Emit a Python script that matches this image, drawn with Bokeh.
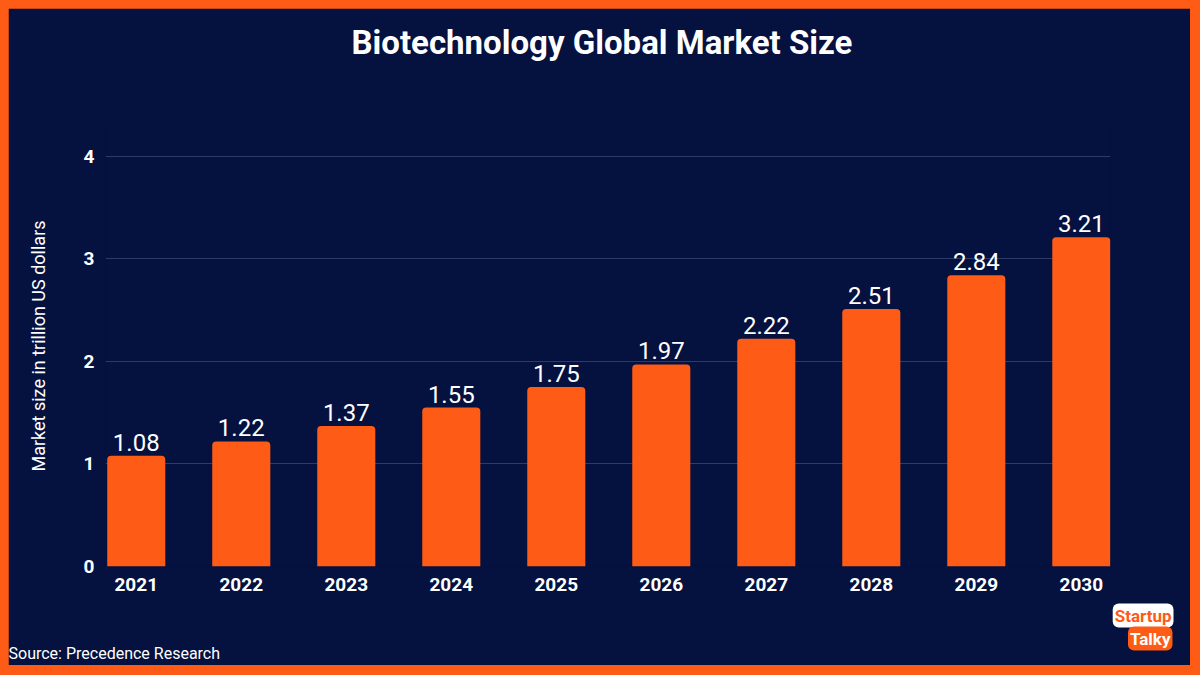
from bokeh.plotting import figure
from bokeh.models import (ColumnDataSource, Range1d, FixedTicker, Title,
                          GlobalInlineStyleSheet)
from bokeh.core.properties import value
from bokeh.embed import file_html
from bokeh.resources import INLINE

years = ["2021", "2022", "2023", "2024", "2025", "2026", "2027", "2028", "2029", "2030"]
market_size = [1.08, 1.22, 1.37, 1.55, 1.75, 1.97, 2.22, 2.51, 2.84, 3.21]
y_ticks = [0, 1, 2, 3, 4]

title_text = "Biotechnology Global Market Size"
y_label = "Market size in trillion US dollars"
source_text = "Source: Precedence Research"

NAVY = "#05113F"
ORANGE = "#FE5B16"
GRID = "#2F3A66"

idx = list(range(len(years)))
src = ColumnDataSource(dict(x=idx, top=market_size,
                            lbl=[f"{v:.2f}" for v in market_size]))

p = figure(width=1182, height=657, output_backend="svg", toolbar_location=None,
           x_range=Range1d(-0.293, 9.278), y_range=Range1d(0, 4.3),
           min_border_left=97, min_border_right=80,
           min_border_top=117, min_border_bottom=99, title=None)
p.stylesheets = [GlobalInlineStyleSheet(
    css="html, body { background-color: %s !important; } body { padding: 8px !important; }" % ORANGE)]

p.background_fill_color = NAVY
p.border_fill_color = NAVY
p.outline_line_color = NAVY
p.outline_line_width = 2

p.vbar(x="x", top="top", width=0.553, source=src, fill_color=ORANGE,
       line_color=None, border_radius=(4, 4, 0, 0))
p.text(x="x", y="top", text="lbl", source=src, text_align="center",
       text_baseline="bottom", y_offset=-5, text_color="white",
       text_font=value("Roboto"), text_font_size="24px")

# axes
p.xaxis.ticker = FixedTicker(ticks=idx)
p.xaxis.major_label_overrides = {i: y for i, y in enumerate(years)}
p.yaxis.ticker = FixedTicker(ticks=y_ticks)
for ax in (p.xaxis, p.yaxis):
    ax.axis_line_color = None
    ax.major_tick_line_color = None
    ax.minor_tick_line_color = None
    ax.major_tick_out = 0
    ax.major_tick_in = 0
    ax.major_label_text_color = "white"
    ax.major_label_text_font = "Roboto"
    ax.major_label_text_font_style = "bold"
    ax.major_label_text_font_size = "19px"
p.xaxis.major_label_standoff = 11
p.yaxis.major_label_standoff = 11
p.yaxis.axis_label = y_label
p.yaxis.axis_label_text_color = "white"
p.yaxis.axis_label_text_font = "Roboto"
p.yaxis.axis_label_text_font_style = "normal"
p.yaxis.axis_label_text_font_size = "18px"
p.yaxis.axis_label_standoff = 32

p.xgrid.grid_line_color = None
p.ygrid.grid_line_color = GRID
p.ygrid.grid_line_width = 1

# spacer between the frame and the title, then the title
p.add_layout(Title(text=" ", text_font_size="1px", standoff=51), "above")
p.add_layout(Title(text=title_text, align="left", offset=246, standoff=20,
                   text_color="white", text_font="Roboto",
                   text_font_style="bold", text_font_size="33px"), "above")
# logo + source (stacked below the x axis)
p.add_layout(Title(text="Startup", align="right", offset=-63,
                   text_color=ORANGE, text_font="Roboto", text_font_style="bold",
                   text_font_size="17px", background_fill_color="white",
                   padding=2, border_radius=6, standoff=16), "below")
p.add_layout(Title(text="Talky", align="right", offset=-62,
                   text_color="white", text_font="Roboto", text_font_style="bold",
                   text_font_size="17px", background_fill_color=ORANGE,
                   padding=2, border_radius=6, standoff=-22), "below")
p.add_layout(Title(text=source_text, align="left", offset=-97,
                   text_color="white", text_font="Roboto",
                   text_font_style="normal", text_font_size="16px",
                   standoff=5), "below")

open("out.html", "w").write(file_html(p, INLINE))
